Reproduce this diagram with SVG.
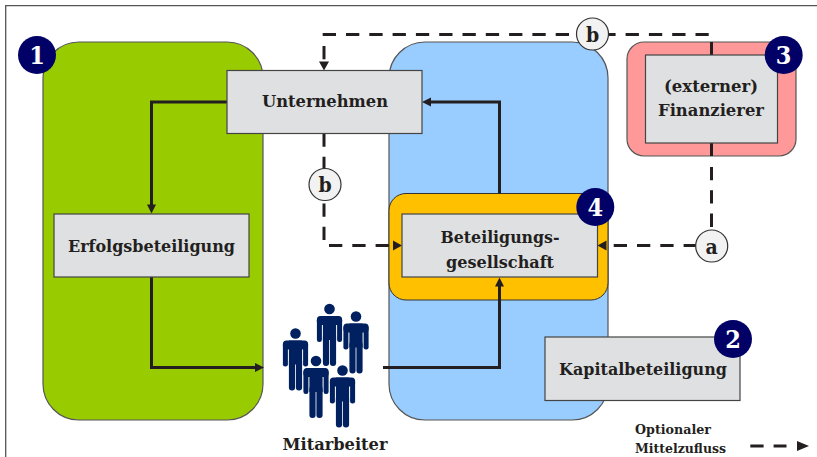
<svg xmlns="http://www.w3.org/2000/svg" xmlns:xlink="http://www.w3.org/1999/xlink" width="817" height="457" viewBox="0 0 817 457">
<style>
text{font-family:"DejaVu Serif Condensed","DejaVu Serif","Liberation Serif",serif;font-weight:700;fill:#231f20;text-anchor:middle}
.lb{font-size:17.5px}
.lg{font-size:13px;text-anchor:start}
.num{font-size:25px;fill:#fff}
.cl{font-size:21px}
.area{stroke:#555;stroke-width:1.2}
.box{fill:#dfe0e2;stroke:#444;stroke-width:1.2}
.badge{fill:#000066}
.cir{fill:#f2f2f2;stroke:#333;stroke-width:1.2}
.s{fill:none;stroke:#231f20;stroke-width:3}
.d{fill:none;stroke:#231f20;stroke-width:3;stroke-dasharray:13.3 10}
.h{fill:#231f20}
.p{fill:#002060}
</style>
<defs>
<g id="person">
<circle cx="0" cy="0" r="5.3"/>
<rect x="-12.6" y="7" width="25.2" height="9" rx="3.5"/>
<rect x="-12.6" y="9" width="5" height="24" rx="2.3"/>
<rect x="7.6" y="9" width="5" height="24" rx="2.3"/>
<rect x="-6.6" y="7" width="13.2" height="24"/>
<rect x="-6.6" y="25" width="6.2" height="32" rx="3"/>
<rect x="0.4" y="25" width="6.2" height="32" rx="3"/>
</g>
</defs>
<rect width="817" height="457" fill="#fff"/>
<path d="M5.7 457V5.7H817" fill="none" stroke="#555" stroke-width="1.3"/>

<g id="area-green"><rect class="area" x="43" y="42" width="220" height="378" rx="36" fill="#99cc00"/></g>
<g id="area-blue"><rect class="area" x="389" y="42" width="219" height="378" rx="36" fill="#99ccff"/></g>
<g id="area-orange"><rect x="389" y="193.5" width="219" height="106.5" rx="17" fill="#ffc000" stroke="#333" stroke-width="1"/></g>
<g id="area-red"><rect class="area" x="627" y="42" width="169" height="114" rx="17" fill="#ff9999"/></g>

<g id="connectors">
<path class="s" d="M227 102H151.5V206"/>
<path class="h" d="M151.5 213.5l-4.5-9h9z"/>
<path class="s" d="M151.5 277V367.5H257"/>
<path class="h" d="M264 367.5l-9-4.5v9z"/>
<path class="s" d="M383 367.5H499.5V284"/>
<path class="h" d="M499.5 277.5l-4.5 9h9z"/>
<path class="s" d="M499.5 193.5V102H429"/>
<path class="h" d="M422 102l9-4.5v9z"/>
<path class="d" d="M322.700 34.5H708.700"/>
<path class="d" d="M324 46V62"/>
<path class="h" d="M324 70.5l-5-9h10z"/>
<path class="s" d="M711.5 42V55M711.5 143V156"/>
<path class="d" d="M711.5 167V232"/>
<path class="d" d="M324 133.500V240M329 245.500H395"/>
<path class="d" d="M613.700 245.500H697"/>
<path class="h" d="M402 245.500l-9-5v10z"/>
<path class="h" d="M597.500 245.500l9-5v10z"/>
<path class="d" d="M750.300 446H786.500"/>
<path class="h" d="M809 446l-12-5v10z"/>
</g>

<g id="kapitalbeteiligung"><rect class="box" x="545" y="337" width="195" height="63.500"/><text class="lb" x="643" y="375" textLength="168" lengthAdjust="spacingAndGlyphs">Kapitalbeteiligung</text></g>
<g id="unternehmen"><rect class="box" x="227" y="70.500" width="195" height="63"/><text class="lb" x="325" y="107" textLength="126" lengthAdjust="spacingAndGlyphs">Unternehmen</text></g>
<g id="erfolgsbeteiligung"><rect class="box" x="54" y="214" width="195" height="63"/><text class="lb" x="151.500" y="252" textLength="167" lengthAdjust="spacingAndGlyphs">Erfolgsbeteiligung</text></g>
<g id="beteiligungsgesellschaft"><rect class="box" x="402" y="214" width="195.500" height="63"/><text class="lb" x="500" y="243" textLength="119" lengthAdjust="spacingAndGlyphs">Beteiligungs-</text><text class="lb" x="500" y="268" textLength="108" lengthAdjust="spacingAndGlyphs">gesellschaft</text></g>
<g id="finanzierer"><rect class="box" x="645.500" y="55" width="132" height="88"/><text class="lb" x="711" y="92" textLength="94" lengthAdjust="spacingAndGlyphs">(externer)</text><text class="lb" x="711" y="116" textLength="106" lengthAdjust="spacingAndGlyphs">Finanzierer</text></g>

<g id="mitarbeiter" class="p">
<use xlink:href="#person" href="#person" x="329.500" y="309"/>
<use xlink:href="#person" href="#person" x="356" y="316.500"/>
<use xlink:href="#person" href="#person" x="295.500" y="333.500"/>
<use xlink:href="#person" href="#person" x="316" y="361"/>
<use xlink:href="#person" href="#person" x="342.500" y="370.500"/>
<text class="lb" x="335" y="450" textLength="105" lengthAdjust="spacingAndGlyphs">Mitarbeiter</text>
</g>

<g id="badge-1"><circle class="badge" cx="37" cy="55" r="19"/><text class="num" x="37" y="64">1</text></g>
<g id="badge-2"><circle class="badge" cx="733" cy="339" r="19"/><text class="num" x="733" y="348">2</text></g>
<g id="badge-3"><circle class="badge" cx="783.700" cy="55" r="19"/><text class="num" x="783.700" y="64">3</text></g>
<g id="badge-4"><circle class="badge" cx="595.300" cy="207" r="19"/><text class="num" x="595.300" y="216">4</text></g>

<g id="label-b-top"><circle class="cir" cx="592.500" cy="34" r="16"/><text class="cl" x="592.500" y="41.500">b</text></g>
<g id="label-b-left"><circle class="cir" cx="325" cy="184.500" r="16"/><text class="cl" x="325" y="192">b</text></g>
<g id="label-a"><circle class="cir" cx="711.700" cy="246" r="16"/><text class="cl" x="711.700" y="253.500">a</text></g>

<g id="legend"><text class="lg" x="635" y="434" textLength="76" lengthAdjust="spacingAndGlyphs">Optionaler</text><text class="lg" x="635" y="453" textLength="91" lengthAdjust="spacingAndGlyphs">Mittelzufluss</text></g>
</svg>
